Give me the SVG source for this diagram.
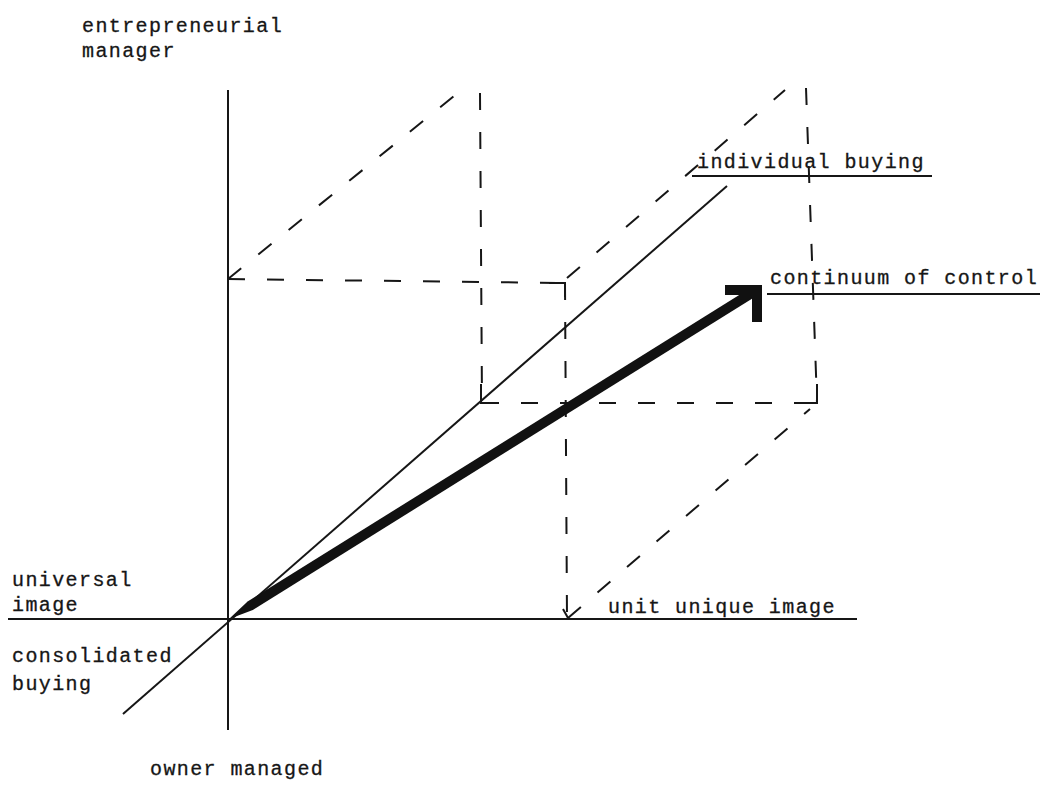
<svg xmlns="http://www.w3.org/2000/svg" width="1047" height="785" viewBox="0 0 1047 785">
<style>
.ax{stroke:#161616;stroke-width:2;fill:none}
.ds{stroke:#161616;stroke-width:2;fill:none;stroke-dasharray:17 22}
.cn{stroke:#161616;stroke-width:2;fill:none}
.lb{font-family:"Liberation Mono","DejaVu Sans Mono",monospace;font-size:20px;letter-spacing:1.4px;fill:#161616;stroke:#161616;stroke-width:0.3}
</style>
<rect width="1047" height="785" fill="#ffffff"/>
<g id="connectors">
<line class="ax" x1="228" y1="90" x2="228" y2="730"/>
<line class="ax" x1="8" y1="619" x2="857" y2="619"/>
<line class="ax" x1="123" y1="714" x2="727" y2="186"/>
<path class="ds" d="M228,279 L459,92"/>
<path class="ds" d="M228,279 L565,283"/>
<path class="ds" d="M565,283 L567,618"/>
<path class="cn" d="M549,283 H565 V297"/>
<path class="ds" d="M568,618 L810,409"/>
<path class="cn" d="M563,609 L568,618"/>
<path class="ds" d="M567,278 L785,90"/>
<path class="ds" d="M480,93 L482,403"/>
<path class="ds" d="M482,403 L817,403"/>
<path class="cn" d="M481,384 V403 H497"/>
<path class="ds" d="M806,88 L817,403"/>
<path class="cn" d="M800,403 H817 V384"/>
<polygon points="229,619 247.6,601.6 752.4,286.8 757.6,295.2 252.8,610" fill="#111"/>
<polyline points="725,290 757,290 757,322" fill="none" stroke="#111" stroke-width="10" stroke-linejoin="miter"/>
</g>
<g id="entrepreneurial-manager"><text class="lb" x="82" y="32">entrepreneurial</text><text class="lb" x="82" y="57">manager</text></g>
<g id="individual-buying"><text class="lb" x="697" y="168">individual buying</text><line class="ax" x1="692" y1="176" x2="932" y2="176"/></g>
<g id="continuum-of-control"><text class="lb" x="770" y="284">continuum of control</text><line class="ax" x1="767" y1="294" x2="1040" y2="294"/></g>
<g id="universal-image"><text class="lb" x="12" y="586">universal</text><text class="lb" x="12" y="611">image</text></g>
<g id="consolidated-buying"><text class="lb" x="12" y="662">consolidated</text><text class="lb" x="12" y="690">buying</text></g>
<g id="unit-unique-image"><text class="lb" x="608" y="613">unit unique image</text></g>
<g id="owner-managed"><text class="lb" x="150" y="775">owner managed</text></g>
</svg>
